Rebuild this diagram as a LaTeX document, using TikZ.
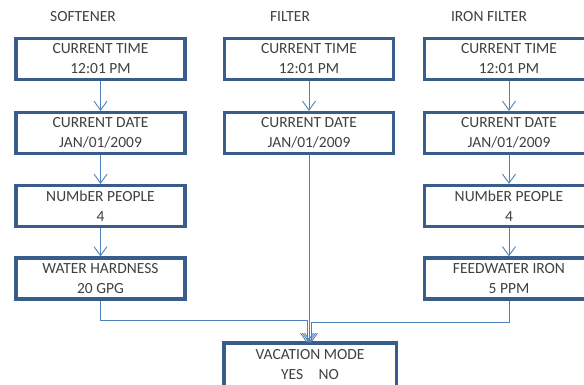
\documentclass[tikz,border=0pt]{standalone}
\usepackage{fontspec}
\setmainfont{Carlito}
\usetikzlibrary{arrows.meta}
\definecolor{boxblue}{HTML}{385D8A}
\definecolor{lineblue}{HTML}{4F81BD}
\definecolor{txt}{HTML}{404040}
\tikzset{
  box/.style={draw=boxblue, line width=3.2pt, fill=white, minimum width=169pt, minimum height=41pt, inner sep=0pt, align=center, text=txt, font=\fontsize{15.5}{20}\selectfont},
  title/.style={text=txt, font=\fontsize{15.5}{18}\selectfont, inner sep=0pt},
  conn/.style={draw=lineblue, line width=0.9pt, -{Straight Barb[length=9pt,width=13pt,line width=0.9pt]}},
  openbox/.style={draw=boxblue, line width=3.2pt}
}
\begin{document}
\begin{tikzpicture}[x=1pt,y=-1pt]
\useasboundingbox (0,0) rectangle (584,385);
\clip (0,0) rectangle (584,385);
\fill[white] (0,0) rectangle (584,385);
% titles
\node[title] (t1) at (83,17) {SOFTENER};
\node[title] (t2) at (290,17) {FILTER};
\node[title] (t3) at (489,17) {IRON FILTER};
% softener column
\node[box] (s1) at (100.5,59) {CURRENT TIME\\12:01 PM};
\node[box] (s2) at (100.5,133) {CURRENT DATE\\JAN/01/2009};
\node[box] (s3) at (100.5,206) {NUMbER PEOPLE\\4};
\node[box] (s4) at (100.5,278.5) {WATER HARDNESS\\20 GPG};
% filter column
\node[box] (f1) at (309,59) {CURRENT TIME\\12:01 PM};
\node[box] (f2) at (309,133) {CURRENT DATE\\JAN/01/2009};
% iron filter column
\node[box] (i1) at (509,59) {CURRENT TIME\\12:01 PM};
\node[box] (i2) at (509,133) {CURRENT DATE\\JAN/01/2009};
\node[box] (i3) at (509,206) {NUMbER PEOPLE\\4};
\node[box] (i4) at (509,278.5) {FEEDWATER IRON\\5 PPM};
% vacation (bottom cut off by the page edge)
\node[box, draw=none] (v) at (310,365) {VACATION MODE\\YES\quad NO};
\draw[openbox] ([yshift=-12pt]v.south west) -- (v.north west) -- (v.north east) -- ([yshift=-12pt]v.south east);
% connectors
\draw[conn] (s1) -- (s2);
\draw[conn] (s2) -- (s3);
\draw[conn] (s3) -- (s4);
\draw[conn] (f1) -- (f2);
\draw[conn] (i1) -- (i2);
\draw[conn] (i2) -- (i3);
\draw[conn] (i3) -- (i4);
\coordinate (jl) at (307,320);
\coordinate (jr) at (311,322);
\draw[conn] (s4.south) |- (jl) -- (jl |- v.north);
\draw[conn] (i4.south) |- (jr) -- (jr |- v.north);
\draw[conn] (f2.south) -- (f2.south |- v.north);
\end{tikzpicture}
\end{document}
